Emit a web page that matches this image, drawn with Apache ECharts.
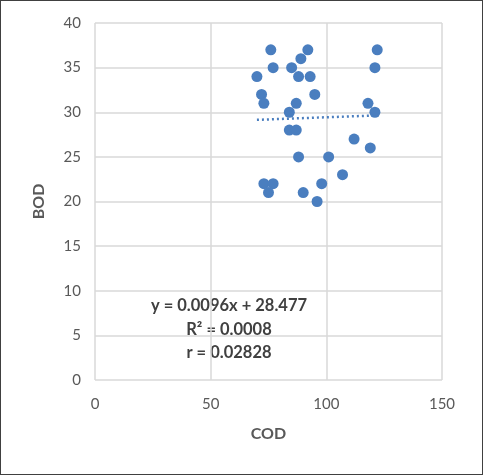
<!DOCTYPE html>
<html><head><meta charset="utf-8">
<script src="https://cdn.jsdelivr.net/npm/echarts@6/dist/echarts.min.js"></script>
<style>
html,body{margin:0;padding:0;background:#fff;}
#c{width:483px;height:475px;box-sizing:border-box;border:1px solid #404040;}
</style></head>
<body><div id="c"></div>
<script>
const codValues = [76,92,89,77,85,70,88,93,72,73,87,95,84,122,121,118,121,84,87,88,101,112,119,73,77,75,90,98,96,107];
const bodValues = [37,37,36,35,35,34,34,34,32,31,31,32,30,37,35,31,30,28,28,25,25,27,26,22,22,21,21,22,20,23];
const trendSlope = 0.0096;
const trendIntercept = 28.477;
const trendRange = [70, 122];
const xTicks = [0, 150, 50];
const yTicks = [0, 40, 5];
const annotationLines = ['y = 0.0096x + 28.477', 'R² = 0.0008', 'r = 0.02828'];

const points = codValues.map((x, i) => [x, bodValues[i]]);
const trend = trendRange.map(x => [x, trendSlope * x + trendIntercept]);
const font = 'Lato, "Open Sans", sans-serif';

const chart = echarts.init(document.getElementById('c'));
chart.setOption({
  animation: false,
  grid: {left: 94, right: 40, top: 22, bottom: 94},
  xAxis: {
    type: 'value', min: xTicks[0], max: xTicks[1], interval: xTicks[2],
    name: 'COD', nameLocation: 'middle', nameGap: 46,
    nameTextStyle: {fontFamily: font, fontSize: 16, fontWeight: 'bold', color: '#595959'},
    axisLine: {show: false}, axisTick: {show: false},
    axisLabel: {fontFamily: font, fontSize: 15, color: '#595959', margin: 17},
    splitLine: {lineStyle: {color: '#d9d9d9', width: 1.5}}
  },
  yAxis: {
    type: 'value', min: yTicks[0], max: yTicks[1], interval: yTicks[2],
    name: 'BOD', nameLocation: 'middle', nameGap: 48,
    nameTextStyle: {fontFamily: font, fontSize: 16, fontWeight: 'bold', color: '#595959'},
    axisLine: {show: false}, axisTick: {show: false},
    axisLabel: {fontFamily: font, fontSize: 15, color: '#595959', margin: 14},
    splitLine: {lineStyle: {color: '#d9d9d9', width: 1.5}}
  },
  series: [
    {
      type: 'scatter', data: points, symbolSize: 11,
      itemStyle: {color: '#4a7ebf', opacity: 1}
    },
    {
      type: 'line', data: trend, symbol: 'none',
      lineStyle: {color: '#4a7ebf', width: 2.5, type: [2, 3]}
    }
  ],
  graphic: annotationLines.map((t, i) => ({
    type: 'text',
    style: {text: t, fontFamily: font, fontSize: 16.5, fontWeight: 'bold', fill: '#404040',
            textAlign: 'center', textVerticalAlign: 'middle'},
    x: 228, y: 305 + i * 23.5
  }))
});
</script></body></html>
